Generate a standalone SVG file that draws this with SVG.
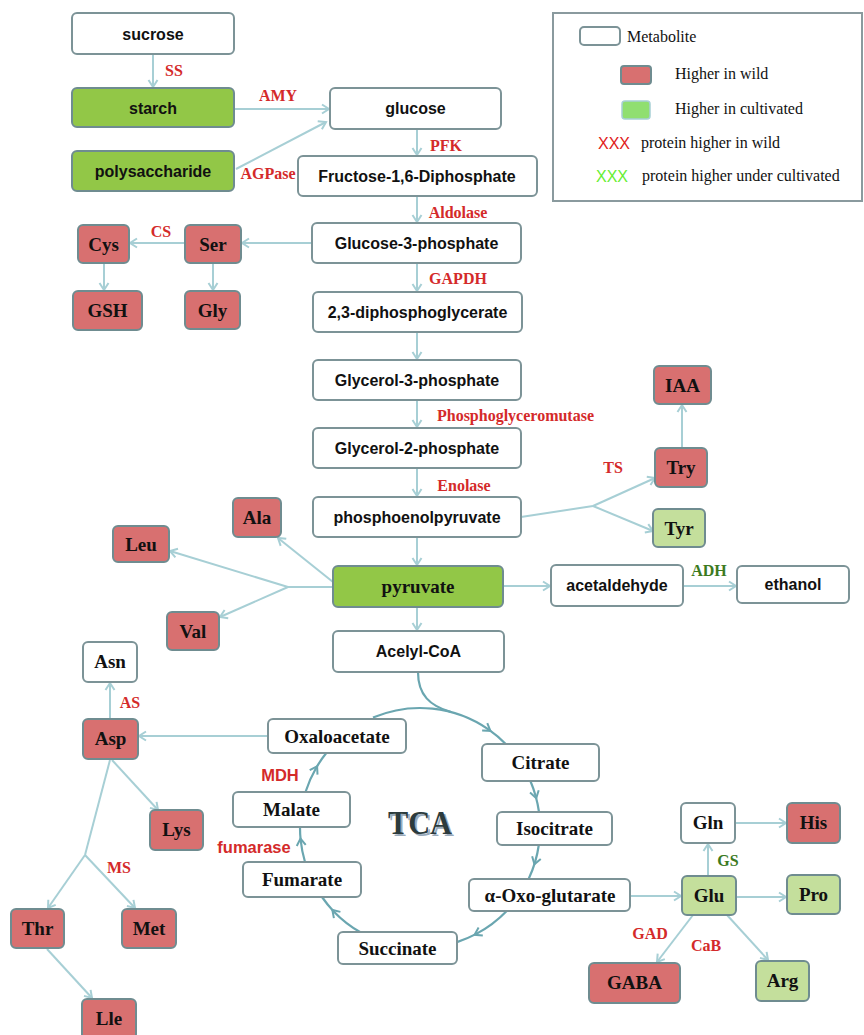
<svg xmlns="http://www.w3.org/2000/svg" width="864" height="1035" viewBox="0 0 864 1035">
<defs>
<marker id="arr" viewBox="0 0 12 12" refX="10" refY="6" markerWidth="12" markerHeight="12" markerUnits="userSpaceOnUse" orient="auto">
<path d="M3,1.5 L10,6 L3,10.5" fill="none" stroke="#a7cfd5" stroke-width="2"/>
</marker>
<marker id="arrT" viewBox="0 0 12 12" refX="8" refY="6" markerWidth="12" markerHeight="12" markerUnits="userSpaceOnUse" orient="auto">
<path d="M3,1.5 L10,6 L3,10.5" fill="none" stroke="#6aa6b0" stroke-width="2"/>
</marker>
<style>
.w{fill:#fff;stroke:#7c9397;stroke-width:2}
.r{fill:#d87070;stroke:#6f8c90;stroke-width:2}
.g{fill:#92c747;stroke:#6f8c90;stroke-width:2}
.lg{fill:#c4df9c;stroke:#6f8c90;stroke-width:2}
.s{font-family:"Liberation Sans",Arial,sans-serif;font-weight:bold;font-size:16px;fill:#111;text-anchor:middle}
.t{font-family:"Liberation Serif","Times New Roman",serif;font-weight:bold;font-size:19px;fill:#111;text-anchor:middle}
.e{font-family:"Liberation Serif","Times New Roman",serif;font-weight:bold;font-size:16px;fill:#d42a2a;text-anchor:middle}
.eg{font-family:"Liberation Serif","Times New Roman",serif;font-weight:bold;font-size:16px;fill:#3c7a1e;text-anchor:middle}
.es{font-family:"Liberation Sans",Arial,sans-serif;font-weight:bold;font-size:16.5px;fill:#d42a2a;text-anchor:middle}
.lt{font-family:"Liberation Serif","Times New Roman",serif;font-size:16px;fill:#111}
.c{fill:none;stroke:#a7cfd5;stroke-width:2}
.tc{fill:none;stroke:#6aa6b0;stroke-width:2.2}
</style>
</defs>
<rect width="864" height="1035" fill="#fff"/>

<g id="connectors">
<path class="c" d="M153,54 V87" marker-end="url(#arr)"/>
<path class="c" d="M234,109 H329" marker-end="url(#arr)"/>
<path class="c" d="M236,169 L326,122" marker-end="url(#arr)"/>
<path class="c" d="M417,129 V155" marker-end="url(#arr)"/>
<path class="c" d="M417,196 V222" marker-end="url(#arr)"/>
<path class="c" d="M312,243 H242" marker-end="url(#arr)"/>
<path class="c" d="M185,243 H130" marker-end="url(#arr)"/>
<path class="c" d="M104,263 V290" marker-end="url(#arr)"/>
<path class="c" d="M213,263 V290" marker-end="url(#arr)"/>
<path class="c" d="M417,263 V291" marker-end="url(#arr)"/>
<path class="c" d="M417,332 V359" marker-end="url(#arr)"/>
<path class="c" d="M417,400 V427" marker-end="url(#arr)"/>
<path class="c" d="M417,468 V496" marker-end="url(#arr)"/>
<path class="c" d="M417,537 V565" marker-end="url(#arr)"/>
<path class="c" d="M417,607 V630" marker-end="url(#arr)"/>
<path class="c" d="M521,517 L593,506"/>
<path class="c" d="M593,506 L655,478" marker-end="url(#arr)"/>
<path class="c" d="M593,506 L653,531" marker-end="url(#arr)"/>
<path class="c" d="M682,448 V405" marker-end="url(#arr)"/>
<path class="c" d="M503,586 H550" marker-end="url(#arr)"/>
<path class="c" d="M683,586 H736" marker-end="url(#arr)"/>
<path class="c" d="M333,582 L278,538" marker-end="url(#arr)"/>
<path class="c" d="M333,587 H288"/>
<path class="c" d="M288,587 L170,551" marker-end="url(#arr)"/>
<path class="c" d="M288,587 L220,617" marker-end="url(#arr)"/>
<path class="c" d="M268,736 H139" marker-end="url(#arr)"/>
<path class="c" d="M110,719 V683" marker-end="url(#arr)"/>
<path class="c" d="M112,760 L158,810" marker-end="url(#arr)"/>
<path class="c" d="M110,760 L85,855"/>
<path class="c" d="M85,855 L48,908" marker-end="url(#arr)"/>
<path class="c" d="M85,855 L135,908" marker-end="url(#arr)"/>
<path class="c" d="M47,949 L92,998" marker-end="url(#arr)"/>
<path class="c" d="M630,896 H681" marker-end="url(#arr)"/>
<path class="c" d="M708,876 V844" marker-end="url(#arr)"/>
<path class="c" d="M735,823 H786" marker-end="url(#arr)"/>
<path class="c" d="M736,897 H786" marker-end="url(#arr)"/>
<path class="c" d="M693,915 L657,962" marker-end="url(#arr)"/>
<path class="c" d="M727,915 L768,960" marker-end="url(#arr)"/>
<!-- TCA cycle -->
<path class="tc" d="M418,672 C418,695 430,706 451,712"/>
<path class="tc" d="M373,717.6 A120,120 0 0 1 488.8,729.7 A120,120 0 0 1 505.7,744" marker-mid="url(#arrT)"/>
<path class="tc" d="M530.4,781 A120,120 0 0 1 535.7,796.2 A120,120 0 0 1 539,812" marker-mid="url(#arrT)"/>
<path class="tc" d="M538.8,845 A120,120 0 0 1 535,862.4 A120,120 0 0 1 528.6,879" marker-mid="url(#arrT)"/>
<path class="tc" d="M506.7,911 A120,120 0 0 1 476.3,933.9 A120,120 0 0 1 457,942.1" marker-mid="url(#arrT)"/>
<path class="tc" d="M360,932 A120,120 0 0 1 333.7,911.4 A120,120 0 0 1 322,897" marker-mid="url(#arrT)"/>
<path class="tc" d="M305,862 A120,120 0 0 1 300.7,840.5 A120,120 0 0 1 300,827" marker-mid="url(#arrT)"/>
<path class="tc" d="M305.5,792 A120,120 0 0 1 316.1,768 A120,120 0 0 1 326.3,753" marker-mid="url(#arrT)"/>
</g>

<g id="enzymes">
<text class="e" x="174" y="76">SS</text>
<text class="e" x="278" y="101">AMY</text>
<text class="e" x="268" y="179">AGPase</text>
<text class="e" x="446" y="151">PFK</text>
<text class="e" x="458" y="218">Aldolase</text>
<text class="e" x="161" y="237">CS</text>
<text class="e" x="458" y="284">GAPDH</text>
<text class="e" x="515.5" y="421">Phosphoglyceromutase</text>
<text class="e" x="464" y="491">Enolase</text>
<text class="e" x="613" y="473">TS</text>
<text class="eg" x="709" y="576">ADH</text>
<text class="e" x="130" y="708">AS</text>
<text class="e" x="119" y="873">MS</text>
<text class="es" x="280" y="781">MDH</text>
<text class="es" x="254" y="853">fumarase</text>
<text class="eg" x="728" y="866">GS</text>
<text class="e" x="650" y="939">GAD</text>
<text class="e" x="706" y="951">CaB</text>
</g>

<g id="tca-label">
<text x="422" y="836" font-family="Liberation Serif,Times New Roman,serif" font-weight="bold" font-size="34" fill="#9ab" text-anchor="middle" textLength="64" lengthAdjust="spacingAndGlyphs">TCA</text>
<text x="420" y="834" font-family="Liberation Serif,Times New Roman,serif" font-weight="bold" font-size="34" fill="#2c3b3d" text-anchor="middle" textLength="64" lengthAdjust="spacingAndGlyphs">TCA</text>
</g>

<g id="legend">
<rect x="553" y="13" width="309" height="188" fill="#fff" stroke="#8a9a9e" stroke-width="2"/>
<rect x="580" y="27" width="40" height="18" rx="4" class="w"/>
<text class="lt" x="627" y="42">Metabolite</text>
<rect x="621" y="66" width="30" height="18" rx="3" class="r"/>
<text class="lt" x="675" y="79">Higher in wild</text>
<rect x="622" y="101" width="28" height="18" rx="3" fill="#90df70" stroke="#a7cfd5" stroke-width="1.5"/>
<text class="lt" x="675" y="114">Higher in cultivated</text>
<text x="598" y="149" font-family="Liberation Sans,Arial,sans-serif" font-size="16" fill="#e02020">XXX</text>
<text class="lt" x="641" y="148">protein higher in wild</text>
<text x="596" y="182" font-family="Liberation Sans,Arial,sans-serif" font-size="16" fill="#66ee33">XXX</text>
<text class="lt" x="642" y="181">protein higher under cultivated</text>
</g>

<g id="n-sucrose"><rect x="72" y="13" width="162" height="41" rx="5" class="w"/><text class="s" x="153" y="40">sucrose</text></g>
<g id="n-starch"><rect x="72" y="88" width="162" height="39" rx="5" class="g"/><text class="s" x="153" y="114">starch</text></g>
<g id="n-polysaccharide"><rect x="72" y="151" width="162" height="40" rx="5" class="g"/><text class="s" x="153" y="177">polysaccharide</text></g>
<g id="n-glucose"><rect x="330" y="88" width="171" height="41" rx="5" class="w"/><text class="s" x="415.5" y="114">glucose</text></g>
<g id="n-f16dp"><rect x="298" y="156" width="239" height="40" rx="5" class="w"/><text class="s" x="417" y="182">Fructose-1,6-Diphosphate</text></g>
<g id="n-g3p"><rect x="312" y="223" width="209" height="40" rx="5" class="w"/><text class="s" x="416.5" y="249">Glucose-3-phosphate</text></g>
<g id="n-cys"><rect x="78" y="225" width="51" height="38" rx="5" class="r"/><text class="t" x="103.5" y="251">Cys</text></g>
<g id="n-ser"><rect x="185" y="225" width="56" height="38" rx="5" class="r"/><text class="t" x="213" y="251">Ser</text></g>
<g id="n-gsh"><rect x="73" y="291" width="69" height="39" rx="5" class="r"/><text class="t" x="107.5" y="317">GSH</text></g>
<g id="n-gly"><rect x="185" y="291" width="55" height="38" rx="5" class="r"/><text class="t" x="212.5" y="317">Gly</text></g>
<g id="n-23dpg"><rect x="313" y="292" width="209" height="40" rx="5" class="w"/><text class="s" x="417.5" y="318">2,3-diphosphoglycerate</text></g>
<g id="n-gly3p"><rect x="313" y="360" width="208" height="40" rx="5" class="w"/><text class="s" x="417" y="386">Glycerol-3-phosphate</text></g>
<g id="n-gly2p"><rect x="313" y="428" width="208" height="40" rx="5" class="w"/><text class="s" x="417" y="454">Glycerol-2-phosphate</text></g>
<g id="n-pep"><rect x="313" y="497" width="208" height="40" rx="5" class="w"/><text class="s" x="417" y="523">phosphoenolpyruvate</text></g>
<g id="n-iaa"><rect x="654" y="366" width="57" height="38" rx="5" class="r"/><text class="t" x="682.5" y="392">IAA</text></g>
<g id="n-try"><rect x="655" y="448" width="52" height="39" rx="5" class="r"/><text class="t" x="681" y="474">Try</text></g>
<g id="n-tyr"><rect x="653" y="509" width="52" height="38" rx="5" class="lg"/><text class="t" x="679" y="535">Tyr</text></g>
<g id="n-ala"><rect x="233" y="498" width="48" height="39" rx="5" class="r"/><text class="t" x="257" y="524">Ala</text></g>
<g id="n-leu"><rect x="113" y="526" width="56" height="36" rx="5" class="r"/><text class="t" x="141" y="551">Leu</text></g>
<g id="n-pyruvate"><rect x="333" y="566" width="170" height="41" rx="5" class="g"/><text class="t" x="418" y="593">pyruvate</text></g>
<g id="n-val"><rect x="167" y="612" width="52" height="38" rx="5" class="r"/><text class="t" x="193" y="638">Val</text></g>
<g id="n-acetaldehyde"><rect x="551" y="565" width="132" height="41" rx="5" class="w"/><text class="s" x="617" y="591">acetaldehyde</text></g>
<g id="n-ethanol"><rect x="737" y="566" width="112" height="37" rx="5" class="w"/><text class="s" x="793" y="590">ethanol</text></g>
<g id="n-acetylcoa"><rect x="333" y="631" width="171" height="41" rx="5" class="w"/><text class="s" x="418.5" y="657">Acelyl-CoA</text></g>
<g id="n-asn"><rect x="83" y="642" width="54" height="40" rx="5" class="w"/><text class="t" x="110" y="668">Asn</text></g>
<g id="n-asp"><rect x="83" y="719" width="55" height="40" rx="5" class="r"/><text class="t" x="110.5" y="745">Asp</text></g>
<g id="n-oxaloacetate"><rect x="268" y="719" width="138" height="34" rx="5" class="w"/><text class="t" x="337" y="743">Oxaloacetate</text></g>
<g id="n-citrate"><rect x="482" y="744" width="117" height="37" rx="5" class="w"/><text class="t" x="540.5" y="769">Citrate</text></g>
<g id="n-malate"><rect x="233" y="792" width="117" height="35" rx="5" class="w"/><text class="t" x="291.5" y="816">Malate</text></g>
<g id="n-isocitrate"><rect x="497" y="812" width="115" height="33" rx="5" class="w"/><text class="t" x="554.5" y="835">Isocitrate</text></g>
<g id="n-lys"><rect x="150" y="810" width="53" height="40" rx="5" class="r"/><text class="t" x="176.5" y="836">Lys</text></g>
<g id="n-fumarate"><rect x="243" y="862" width="118" height="35" rx="5" class="w"/><text class="t" x="302" y="886">Fumarate</text></g>
<g id="n-aoxoglutarate"><rect x="469" y="879" width="161" height="32" rx="5" class="w"/><text class="t" x="550" y="902">α-Oxo-glutarate</text></g>
<g id="n-succinate"><rect x="338" y="932" width="119" height="32" rx="5" class="w"/><text class="t" x="397.5" y="955">Succinate</text></g>
<g id="n-thr"><rect x="11" y="909" width="53" height="39" rx="5" class="r"/><text class="t" x="37.5" y="935">Thr</text></g>
<g id="n-met"><rect x="122" y="909" width="54" height="39" rx="5" class="r"/><text class="t" x="149" y="935">Met</text></g>
<g id="n-lle"><rect x="82" y="999" width="54" height="40" rx="5" class="r"/><text class="t" x="109" y="1025">Lle</text></g>
<g id="n-gln"><rect x="681" y="803" width="54" height="40" rx="5" class="w"/><text class="t" x="708" y="829">Gln</text></g>
<g id="n-his"><rect x="787" y="803" width="53" height="40" rx="5" class="r"/><text class="t" x="813.5" y="829">His</text></g>
<g id="n-glu"><rect x="682" y="876" width="54" height="39" rx="5" class="lg"/><text class="t" x="709" y="902">Glu</text></g>
<g id="n-pro"><rect x="787" y="875" width="53" height="39" rx="5" class="lg"/><text class="t" x="813.5" y="901">Pro</text></g>
<g id="n-gaba"><rect x="589" y="963" width="91" height="40" rx="5" class="r"/><text class="t" x="634.5" y="989">GABA</text></g>
<g id="n-arg"><rect x="756" y="961" width="53" height="40" rx="5" class="lg"/><text class="t" x="782.5" y="987">Arg</text></g>
</svg>
